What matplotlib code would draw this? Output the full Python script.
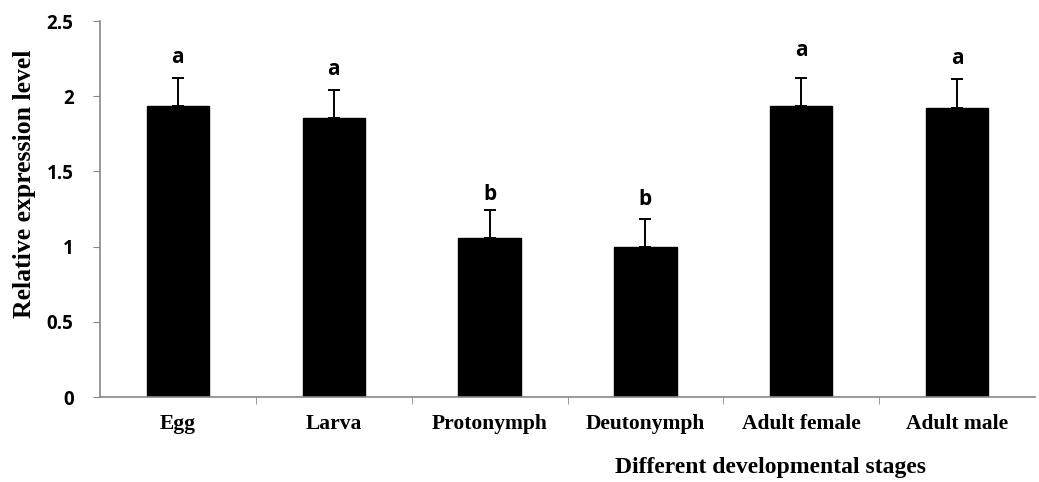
import matplotlib.pyplot as plt

# data
stages = ["Egg", "Larva", "Protonymph", "Deutonymph", "Adult female", "Adult male"]
expression = [1.934, 1.853, 1.056, 0.998, 1.932, 1.924]
errors = [0.19, 0.19, 0.19, 0.187, 0.19, 0.19]
letters = ["a", "a", "b", "b", "a", "a"]
letter_offsets = [14.4, 14.4, 10.8, 13.7, 19.4, 15]  # points above error bar top

y_ticks = [0, 0.5, 1, 1.5, 2, 2.5]
y_tick_labels = ["0", "0.5", "1", "1.5", "2", "2.5"]

# ==================================

fig = plt.figure(figsize=(10.39, 4.82), dpi=100)
ax = fig.add_axes([0.0962, 0.1763, 0.9000, 0.7801])

x = list(range(len(stages)))
ax.bar(x, expression, width=0.4, color="black", edgecolor="black", zorder=2)
ax.errorbar(x, expression, yerr=[[0] * len(errors), errors], fmt="none",
            ecolor="black", elinewidth=1.4, capsize=4, capthick=1.4, zorder=3)

for xi, v, e, lab, off in zip(x, expression, errors, letters, letter_offsets):
    ax.annotate(lab, (xi, v + e), xytext=(0, off), textcoords="offset points",
                ha="center", va="center", fontsize=15, fontweight="bold",
                family="Open Sans")

ax.set_xlim(-0.5, len(stages) - 0.5)
ax.set_ylim(0, 2.5)
ax.set_yticks(y_ticks)
ax.set_yticklabels(y_tick_labels, fontsize=13.5, fontweight="bold", family="Open Sans")

# category labels centred, ticks on the category boundaries
ax.set_xticks(x)
ax.set_xticklabels(stages, fontsize=15.5, fontweight="bold", family="Liberation Serif")
ax.tick_params(axis="x", which="major", length=0, pad=12)
ax.set_xticks([i + 0.5 for i in x[:-1]], minor=True)
ax.tick_params(axis="x", which="minor", length=5, color="#888888", direction="out")
ax.tick_params(axis="y", length=5, color="#888888", direction="out", pad=14)

for side in ["top", "right"]:
    ax.spines[side].set_visible(False)
for side in ["left", "bottom"]:
    ax.spines[side].set_color("#888888")
    ax.spines[side].set_linewidth(1.2)

fig.text(0.024, 0.618, "Relative expression level", rotation=90, ha="center",
         va="center", fontsize=18.5, fontweight="bold", family="Liberation Serif")
fig.text(0.742, 0.03, "Different developmental stages", ha="center", va="center",
         fontsize=17, fontweight="bold", family="Liberation Serif")

plt.savefig("out.png", dpi=100)
plt.close()
